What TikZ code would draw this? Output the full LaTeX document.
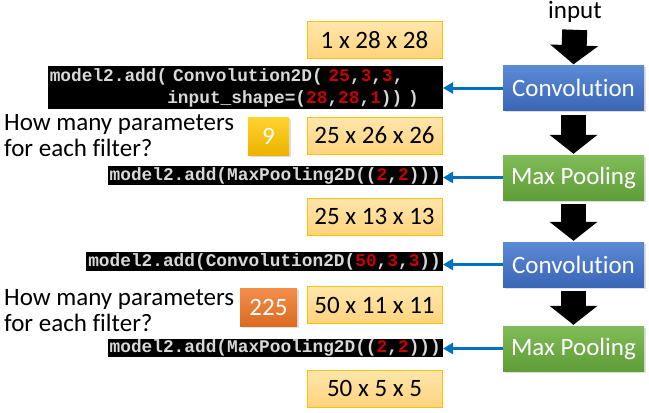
\documentclass[tikz,border=0pt]{standalone}
\usepackage{fontspec}
\setmainfont{Carlito}[Ligatures=NoCommon]
\newfontfamily\codefont{Liberation Mono}
\usetikzlibrary{arrows.meta,shadows}
\definecolor{convtop}{HTML}{5B8AD6}
\definecolor{convbot}{HTML}{3A66B6}
\definecolor{pooltop}{HTML}{80BC58}
\definecolor{poolbot}{HTML}{5F9D38}
\definecolor{shapetop}{HTML}{FFE6AC}
\definecolor{shapebot}{HTML}{FFD37C}
\definecolor{shapeborder}{HTML}{FFC000}
\definecolor{goldtop}{HTML}{FFD42E}
\definecolor{goldbot}{HTML}{EDB200}
\definecolor{orgtop}{HTML}{F38E4B}
\definecolor{orgbot}{HTML}{DA6A20}
\definecolor{codegray}{HTML}{D8D8D8}
\definecolor{codered}{HTML}{C80000}
\definecolor{arrowblue}{HTML}{0070C0}
\newcommand{\rd}[1]{\textcolor{codered}{#1}}
\begin{document}
\begin{tikzpicture}[x=1pt,y=-1pt,
  txt/.style={font=\fontsize{25}{26}\selectfont},
  layer/.style={txt, text=white, minimum width=141pt, minimum height=45pt, inner sep=0pt,
    drop shadow={shadow xshift=1.5pt, shadow yshift=-1.5pt, opacity=0.25}},
  convbox/.style={layer, top color=convtop, bottom color=convbot},
  poolbox/.style={layer, top color=pooltop, bottom color=poolbot},
  shapebox/.style={txt, draw=shapeborder, line width=0.8pt, top color=shapetop, bottom color=shapebot,
    minimum width=135pt, minimum height=37pt, inner sep=0pt},
  numbox/.style={txt, text=white, minimum height=38pt, inner sep=0pt,
    drop shadow={shadow xshift=1.5pt, shadow yshift=-1.5pt, opacity=0.25}},
  codebox/.style={fill=black, text=codegray, anchor=east, inner xsep=2pt, inner ysep=1pt,
    font=\codefont\bfseries\fontsize{17.8}{22}\selectfont, align=left},
  question/.style={txt, align=left, anchor=west, inner sep=0pt},
  bigarrow/.style={line width=25pt, -{Triangle[width=47pt,length=19pt]}, shorten <=4pt, shorten >=1pt},
  bluearrow/.style={arrowblue, line width=3pt, -{Triangle[width=11pt,length=10pt]}}
]
\useasboundingbox (0,0) rectangle (649,413);

% layer boxes
\node[txt, inner sep=0pt] (input) at (575,12) {input};
\node[convbox] (conv1) at (573.5,88) {Convolution};
\node[poolbox] (pool1) at (573.5,177.5) {Max Pooling};
\node[convbox] (conv2) at (573.5,264.5) {Convolution};
\node[poolbox] (pool2) at (573.5,348.5) {Max Pooling};

% black arrows
\draw[bigarrow, shorten <=7pt] (input.south) -- (conv1.north);
\draw[bigarrow] (conv1.south) -- (pool1.north);
\draw[bigarrow] (pool1.south) -- (conv2.north);
\draw[bigarrow] (conv2.south) -- (pool2.north);

% shape boxes
\node[shapebox] (s1) at (374.5,40) {1 x 28 x 28};
\node[shapebox] (s2) at (374.5,135.5) {25 x 26 x 26};
\node[shapebox] (s3) at (374.5,216.5) {25 x 13 x 13};
\node[shapebox] (s4) at (374.5,305) {50 x 11 x 11};
\node[shapebox] (s5) at (374.5,388.5) {50 x 5 x 5};

% code boxes
\node[codebox, inner ysep=2pt, text width=391pt] (code1) at (443,87.5) {model2.add( Convolution2D( \rd{25},\rd{3},\rd{3},\\\phantom{xxxxxxxxxxx}input\_shape=(\rd{28},\rd{28},\rd{1})) )};
\node[codebox] (code2) at (443,175.5) {model2.add(MaxPooling2D((\rd{2},\rd{2})))};
\node[codebox] (code3) at (443,261.5) {model2.add(Convolution2D(\rd{50},\rd{3},\rd{3}))};
\node[codebox] (code4) at (443,348) {model2.add(MaxPooling2D((\rd{2},\rd{2})))};

% blue arrows
\draw[bluearrow] (conv1.west) -- (conv1.west -| code1.east);
\draw[bluearrow] (pool1.west) -- (pool1.west -| code2.east);
\draw[bluearrow] (conv2.west) -- (conv2.west -| code3.east);
\draw[bluearrow] (pool2.west) -- (pool2.west -| code4.east);

% questions
\node[question] (q1) at (4,136) {How many parameters\\for each filter?};
\node[question] (q2) at (4,311) {How many parameters\\for each filter?};
\node[numbox, minimum width=41pt, top color=goldtop, bottom color=goldbot] (n1) at (268.5,136) {9};
\node[numbox, minimum width=57pt, top color=orgtop, bottom color=orgbot] (n2) at (268.5,307.5) {225};
\end{tikzpicture}
\end{document}
